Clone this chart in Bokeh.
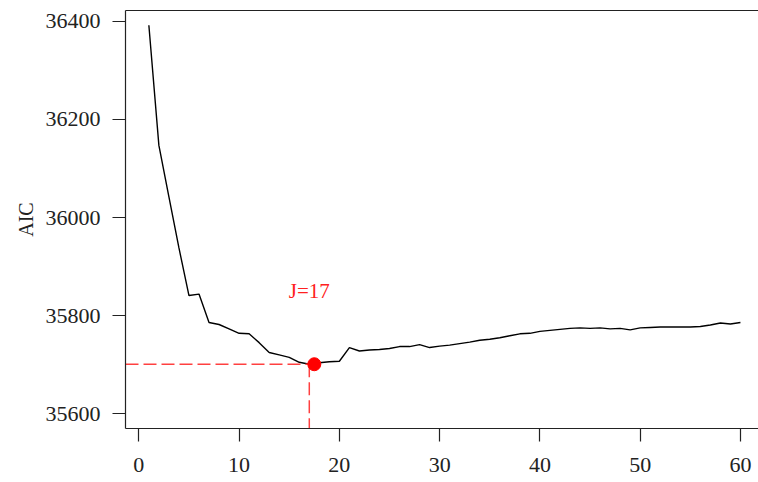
from bokeh.plotting import figure
from bokeh.models import Range1d, FixedTicker, LinearAxis
from bokeh.embed import file_html
from bokeh.resources import INLINE
from bokeh.core.properties import value

# ---- data ----
j_values = list(range(1, 61))
aic_values = [36392, 36147, 36042, 35938, 35841, 35844, 35786, 35782, 35773, 35764,
              35763, 35745, 35725, 35720, 35715, 35705, 35701, 35704, 35706, 35707,
              35735, 35728, 35730, 35731, 35733, 35737, 35737, 35741, 35735, 35738,
              35740, 35743, 35746, 35750, 35752, 35755, 35759, 35763, 35764, 35768,
              35770, 35772, 35774, 35775, 35774, 35775, 35773, 35774, 35771, 35775,
              35776, 35777, 35777, 35777, 35777, 35778, 35781, 35785, 35783, 35786]
best_j = 17
best_marker_x = 17.5
best_aic = 35701
x_ticks = [0, 10, 20, 30, 40, 50, 60]
y_ticks = [35600, 35800, 36000, 36200, 36400]
label_text = "J=17"

FONT = "Liberation Serif"

x_start, x_end = -1.33, 61.8
y_start, y_end = 35570, 36422

p = figure(width=758, height=482, output_backend="svg", toolbar_location=None,
           x_range=Range1d(x_start, x_end), y_range=Range1d(y_start, y_end),
           min_border_left=125, min_border_right=0, min_border_top=10,
           min_border_bottom=54)
p.outline_line_color = None
p.grid.visible = False
p.background_fill_color = "white"
p.border_fill_color = "white"

for ax in (p.xaxis[0], p.yaxis[0]):
    ax.axis_line_color = "#222222"
    ax.axis_line_width = 1.2
    ax.major_tick_line_color = "#222222"
    ax.major_tick_line_width = 1.2
    ax.major_tick_out = 13
    ax.major_tick_in = 0
    ax.minor_tick_line_color = None
    ax.major_label_text_font = FONT
    ax.major_label_text_font_size = "22px"
    ax.major_label_text_color = "#222222"

p.xaxis[0].ticker = FixedTicker(ticks=x_ticks)
p.yaxis[0].ticker = FixedTicker(ticks=y_ticks)
p.xaxis[0].major_label_standoff = 16
p.yaxis[0].major_label_standoff = 12
p.yaxis[0].axis_label = "AIC"
p.yaxis[0].axis_label_text_font = FONT
p.yaxis[0].axis_label_text_font_size = "20px"
p.yaxis[0].axis_label_text_font_style = "normal"
p.yaxis[0].axis_label_text_color = "#222222"
p.yaxis[0].axis_label_standoff = 6

top_axis = LinearAxis(ticker=FixedTicker(ticks=[]), axis_line_color="#222222",
                      axis_line_width=1.2, major_tick_line_color=None,
                      minor_tick_line_color=None, major_label_text_font_size="0px")
p.add_layout(top_axis, "above")

p.line(j_values, aic_values, line_color="black", line_width=1.4)

dash_color = "#ff4040"
p.segment(x0=[x_start], y0=[best_aic], x1=[best_marker_x], y1=[best_aic],
          line_color=dash_color, line_width=1.5, line_dash="13 5")
p.segment(x0=[best_j], y0=[best_aic], x1=[best_j], y1=[y_start],
          line_color=dash_color, line_width=1.5, line_dash="13 5")
p.scatter([best_marker_x], [best_aic], size=13, color="#ff0000")

p.text(x=[best_j], y=[best_aic + 150], text=[label_text], text_color="#ff2020",
       text_font=value(FONT), text_font_size="21px", text_align="center",
       text_baseline="middle")

open("out.html", "w").write(file_html(p, INLINE))
